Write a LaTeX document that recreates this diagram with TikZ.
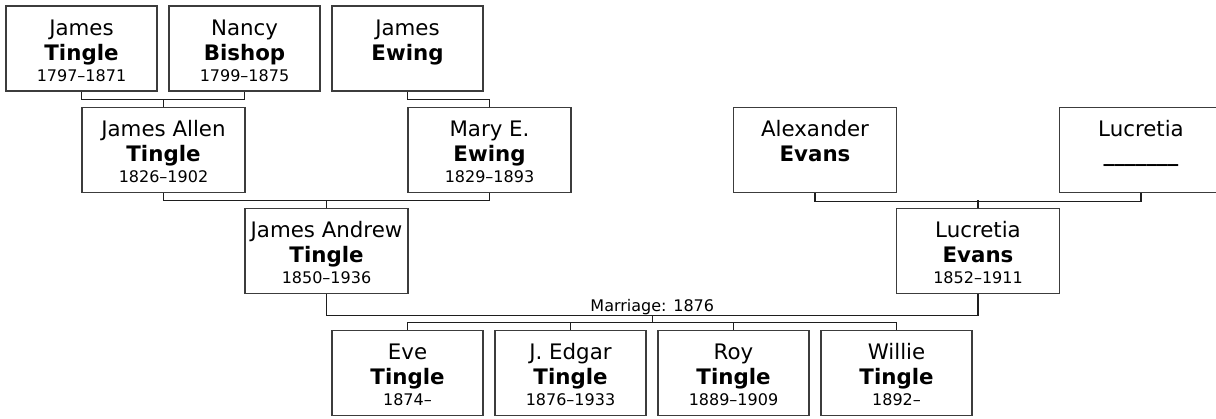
\documentclass[tikz,border=0pt]{standalone}
\usepackage{fontspec}
\setmainfont{DejaVu Sans}
\usepackage{tikz}
\usetikzlibrary{calc}
\definecolor{boxgray}{RGB}{60, 60, 60}
\definecolor{linkgray}{RGB}{30, 30, 30}
\newcommand{\datefont}{\fontsize{12pt}{14pt}\selectfont}

\begin{document}
\begin{tikzpicture}[x=0.75pt, y=-0.75pt,
  person/.style={draw=boxgray, line width=1pt, fill=white, minimum width=113.25pt, minimum height=63.75pt,
    inner sep=2pt, align=center, font=\fontsize{16pt}{18.75pt}\selectfont, text height=48.75pt, text depth=0pt},
  wideperson/.style={person, minimum width=122.25pt},
  link/.style={draw=linkgray, line width=0.8pt}]
  \useasboundingbox (0,0) rectangle (1216,418);

  % grandparents
  \node[person] (jt) at (81.5,48.5) {James\\\textbf{Tingle}\\[-3pt]{\datefont 1797--1871}};
  \node[person] (nb) at (244.5,48.5) {Nancy\\\textbf{Bishop}\\[-3pt]{\datefont 1799--1875}};
  \node[person] (je) at (407.5,48.5) {James\\\textbf{Ewing}\\[-3pt]{\datefont\phantom{0}}};

  % parents
  \node[wideperson] (jat) at (163.5,150) {James Allen\\\textbf{Tingle}\\[-3pt]{\datefont 1826--1902}};
  \node[wideperson] (me) at (489.5,150) {Mary E.\\\textbf{Ewing}\\[-3pt]{\datefont 1829--1893}};
  \node[wideperson] (ae) at (815,150) {Alexander\\\textbf{Evans}\\[-3pt]{\datefont\phantom{0}}};
  \node[wideperson] (lu) at (1141,150) {Lucretia\\\textbf{\_\_\_\_\_\_\_}\\[-3pt]{\datefont\phantom{0}}};

  % couple
  \node[wideperson] (ja) at (326.5,251) {James Andrew\\\textbf{Tingle}\\[-3pt]{\datefont 1850--1936}};
  \node[wideperson] (le) at (978,251) {Lucretia\\\textbf{Evans}\\[-3pt]{\datefont 1852--1911}};

  % children
  \node[person] (eve) at (407.5,373) {Eve\\\textbf{Tingle}\\[-3pt]{\datefont 1874--}};
  \node[person] (jed) at (570.5,373) {J. Edgar\\\textbf{Tingle}\\[-3pt]{\datefont 1876--1933}};
  \node[person] (roy) at (733.5,373) {Roy\\\textbf{Tingle}\\[-3pt]{\datefont 1889--1909}};
  \node[person] (wil) at (896.5,373) {Willie\\\textbf{Tingle}\\[-3pt]{\datefont 1892--}};

  \draw[link] (jt.south) -- ++(0,8) -| (nb.south);
  \draw[link] (jat.north) -- ++(0,-8);
  \draw[link] (je.south) -- ++(0,8) -| (me.north);
  \draw[link] (jat.south) -- ++(0,7) -| (me.south);
  \draw[link] (ja.north) -- ++(0,-8);
  \draw[link] (ae.south) -- ++(0,8) -| (lu.south);
  \draw[link] (le.north) -- ++(0,-8);

  % marriage and children
  \draw[link] (ja.south) -- ++(0,21) -| (le.south);
  \coordinate (wed) at ($(ja.south)!0.5!(le.south)+(0,21)$);
  \node[anchor=base, font=\datefont, inner sep=0pt] (wedlbl) at ($(wed)+(0,-4)$) {Marriage: 1876};
  \draw[link] (wed) -- ++(0,8) coordinate (kids);
  \draw[link] (eve.north) -- ++(0,-7) -| (wil.north);
  \draw[link] (jed.north) -- ++(0,-7);
  \draw[link] (roy.north) -- ++(0,-7);
\end{tikzpicture}
\end{document}
